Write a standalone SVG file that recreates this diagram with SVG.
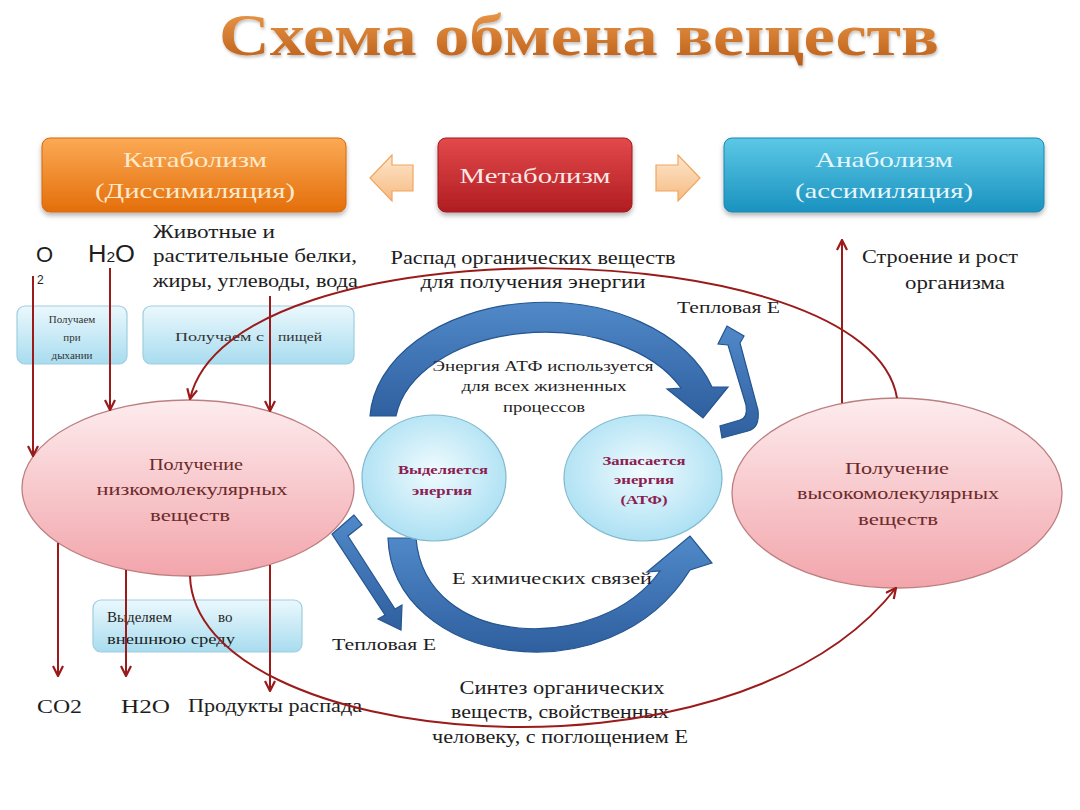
<svg xmlns="http://www.w3.org/2000/svg" width="1080" height="810" viewBox="0 0 1080 810">
<defs>
<linearGradient id="gTitle" x1="0" y1="0" x2="0" y2="1"><stop offset="0" stop-color="#f0a050"/><stop offset="1" stop-color="#b85a14"/></linearGradient>
<linearGradient id="gOrange" x1="0" y1="0" x2="0" y2="1"><stop offset="0" stop-color="#fbaa55"/><stop offset="1" stop-color="#e46e0a"/></linearGradient>
<linearGradient id="gRed" x1="0" y1="0" x2="0" y2="1"><stop offset="0" stop-color="#e3494b"/><stop offset="1" stop-color="#b01d21"/></linearGradient>
<linearGradient id="gBlue" x1="0" y1="0" x2="0" y2="1"><stop offset="0" stop-color="#5cc8e6"/><stop offset="1" stop-color="#1a92bf"/></linearGradient>
<linearGradient id="gPeach" x1="0" y1="0" x2="0" y2="1"><stop offset="0" stop-color="#fde6cc"/><stop offset="1" stop-color="#f6bb82"/></linearGradient>
<linearGradient id="gPink" x1="0" y1="0" x2="0" y2="1"><stop offset="0" stop-color="#fdecee"/><stop offset="1" stop-color="#f2a5ab"/></linearGradient>
<radialGradient id="gCyan" cx="0.5" cy="0.45" r="0.6"><stop offset="0" stop-color="#f0fbfe"/><stop offset="1" stop-color="#a6def2"/></radialGradient>
<linearGradient id="gLight" x1="0" y1="0" x2="0" y2="1"><stop offset="0" stop-color="#ebf8fd"/><stop offset="1" stop-color="#a8dcef"/></linearGradient>
<linearGradient id="gArrow" x1="0" y1="0" x2="0" y2="1"><stop offset="0" stop-color="#5089c9"/><stop offset="1" stop-color="#2f5f9f"/></linearGradient>
<filter id="shadow" x="-10%" y="-10%" width="120%" height="140%"><feDropShadow dx="0" dy="3" stdDeviation="2.5" flood-color="#000" flood-opacity="0.3"/></filter>
<filter id="tshadow" x="-5%" y="-20%" width="110%" height="150%"><feDropShadow dx="1" dy="2" stdDeviation="1.5" flood-color="#000" flood-opacity="0.25"/></filter>
<marker id="ah" viewBox="0 0 12 12" refX="11" refY="6" markerWidth="12" markerHeight="12" markerUnits="userSpaceOnUse" orient="auto"><path d="M1,1 L11,6 L1,11" fill="none" stroke="#9b1b1b" stroke-width="2.2"/></marker>
<style>
text{font-family:"Liberation Serif","DejaVu Serif",serif;fill:#1e1e1e}
.lbl{font-size:19px}
.mid{text-anchor:middle}
.hd{font-size:22px}
.big{font-size:17px;fill:#6b2a2a}
.sm{font-size:13px;font-weight:bold;fill:#8a2050}
.cyc{font-size:15px}
.tiny{font-size:11px;fill:#333}
.sans{font-family:"Liberation Sans",Arial,sans-serif}
.link{fill:none;stroke:#9b1b1b;stroke-width:2;marker-end:url(#ah)}
.pinkE{fill:url(#gPink);stroke:#bd7f80;stroke-width:1.3}
.cyanE{fill:url(#gCyan);stroke:#80b9cd;stroke-width:1.2}
.lbox{fill:url(#gLight);stroke:#9fcde0;stroke-width:1.2}
.barrow{fill:url(#gArrow);stroke:#24558f;stroke-width:1.2}
.peach{fill:url(#gPeach);stroke:#f0a660;stroke-width:1.2}
</style>
</defs>
<rect width="1080" height="810" fill="#ffffff"/>

<text x="579" y="55" text-anchor="middle" font-size="60" font-weight="bold" fill="url(#gTitle)" style="fill:url(#gTitle)" textLength="720" lengthAdjust="spacingAndGlyphs" filter="url(#tshadow)">Схема обмена веществ</text>

<g id="catabolism">
<rect x="42" y="138" width="304" height="74" rx="8" fill="url(#gOrange)" stroke="#d8670c" filter="url(#shadow)"/>
<text x="195" y="167" class="hd mid" style="fill:#ffeacc" textLength="144" lengthAdjust="spacingAndGlyphs">Катаболизм</text>
<text x="195" y="198" class="hd mid" style="fill:#ffeacc" textLength="200" lengthAdjust="spacingAndGlyphs">(Диссимиляция)</text>
</g>
<g id="metabolism">
<rect x="438" y="138" width="194" height="74" rx="8" fill="url(#gRed)" stroke="#a01a1e" filter="url(#shadow)"/>
<text x="535" y="183" class="hd mid" style="fill:#fde8e8" textLength="151" lengthAdjust="spacingAndGlyphs">Метаболизм</text>
</g>
<g id="anabolism">
<rect x="724" y="138" width="320" height="74" rx="8" fill="url(#gBlue)" stroke="#1888b3" filter="url(#shadow)"/>
<text x="884" y="167" class="hd mid" style="fill:#e6f6fc" textLength="138" lengthAdjust="spacingAndGlyphs">Анаболизм</text>
<text x="884" y="198" class="hd mid" style="fill:#e6f6fc" textLength="178" lengthAdjust="spacingAndGlyphs">(ассимиляция)</text>
</g>
<g id="arrow-left">
<path class="peach" d="M370,178 L392,155 L392,165 L413,165 L413,191 L392,191 L392,201 Z"/>
</g>
<g id="arrow-right">
<path class="peach" d="M700,178 L678,155 L678,165 L656,165 L656,191 L678,191 L678,201 Z"/>
</g>

<g id="inputs-labels">
<text x="36" y="262" class="sans" font-size="22">O</text>
<text x="37" y="284" class="sans" font-size="12">2</text>
<text x="88" y="262" class="sans" font-size="23" textLength="47" lengthAdjust="spacingAndGlyphs">H<tspan font-size="14">2</tspan>O</text>
<text x="153" y="238" class="lbl" textLength="122" lengthAdjust="spacingAndGlyphs">Животные и</text>
<text x="153" y="262" class="lbl" textLength="204" lengthAdjust="spacingAndGlyphs">растительные белки,</text>
<text x="153" y="287" class="lbl" textLength="205" lengthAdjust="spacingAndGlyphs">жиры, углеводы, вода</text>
</g>

<g id="breath-box">
<rect class="lbox" x="17" y="306" width="110" height="58" rx="8"/>
<text x="72" y="323" class="tiny mid">Получаем</text>
<text x="72" y="341" class="tiny mid">при</text>
<text x="72" y="359" class="tiny mid">дыхании</text>
</g>
<g id="food-box">
<rect class="lbox" x="143" y="306" width="211" height="58" rx="8"/>
<text x="175" y="341" font-size="12" style="fill:#333" textLength="89" lengthAdjust="spacingAndGlyphs">Получаем с</text>
<text x="278" y="341" font-size="12" style="fill:#333" textLength="44" lengthAdjust="spacingAndGlyphs">пищей</text>
</g>

<g id="top-labels">
<text x="533" y="264" class="lbl mid" textLength="285" lengthAdjust="spacingAndGlyphs">Распад органических веществ</text>
<text x="533" y="288" class="lbl mid" textLength="225" lengthAdjust="spacingAndGlyphs">для получения энергии</text>
<text x="862" y="263" class="lbl" textLength="156" lengthAdjust="spacingAndGlyphs">Строение и рост</text>
<text x="905" y="289" class="lbl" textLength="100" lengthAdjust="spacingAndGlyphs">организма</text>
<text x="677" y="313" font-size="17" textLength="103" lengthAdjust="spacingAndGlyphs">Тепловая Е</text>
</g>

<g id="energy-arrows">
<path class="barrow" d="M370,416 A175,120 0 0 1 712,387 L728,387 L703,418 L667,389 L681,388 A150,96 0 0 0 396,416 Z"/>
<path class="barrow" d="M388,538 C392,665 610,700 690,570 L712,563 L690,536 L647,572 L660,571 C600,655 425,650 416,538 Z"/>
<path class="barrow" d="M722,438 L748,431 Q760,428 758,410 L740,343 L744,336 L727,326 L718,344 L728,345 L746,405 Q748,418 740,420 L720,426 Z"/>
<path class="barrow" d="M354,515 L332,534 L385,615 L378,619 L401,630 L402,605 L395,609 L348,536 L362,525 Z"/>
</g>

<g id="low-molecular">
<ellipse class="pinkE" cx="188" cy="488" rx="166" ry="88"/>
<text x="196" y="470" class="big mid" textLength="94" lengthAdjust="spacingAndGlyphs">Получение</text>
<text x="192" y="495" class="big mid" textLength="191" lengthAdjust="spacingAndGlyphs">низкомолекулярных</text>
<text x="190" y="521" class="big mid" textLength="80" lengthAdjust="spacingAndGlyphs">веществ</text>
</g>
<g id="high-molecular">
<ellipse class="pinkE" cx="897" cy="493" rx="165" ry="95"/>
<text x="897" y="474" class="big mid" textLength="104" lengthAdjust="spacingAndGlyphs">Получение</text>
<text x="898" y="499" class="big mid" textLength="202" lengthAdjust="spacingAndGlyphs">высокомолекулярных</text>
<text x="898" y="525" class="big mid" textLength="80" lengthAdjust="spacingAndGlyphs">веществ</text>
</g>
<g id="energy-released">
<ellipse class="cyanE" cx="434" cy="478" rx="72" ry="63"/>
<text x="443" y="474" class="sm mid" textLength="90" lengthAdjust="spacingAndGlyphs">Выделяется</text>
<text x="442" y="495" class="sm mid" textLength="60" lengthAdjust="spacingAndGlyphs">энергия</text>
</g>
<g id="energy-stored">
<ellipse class="cyanE" cx="643" cy="478" rx="79" ry="63"/>
<text x="644" y="465" class="sm mid" textLength="83" lengthAdjust="spacingAndGlyphs">Запасается</text>
<text x="644" y="484" class="sm mid" textLength="60" lengthAdjust="spacingAndGlyphs">энергия</text>
<text x="644" y="504" class="sm mid" textLength="47" lengthAdjust="spacingAndGlyphs">(АТФ)</text>
</g>

<g id="cycle-labels">
<text x="543" y="371" class="cyc mid" textLength="221" lengthAdjust="spacingAndGlyphs">Энергия АТФ используется</text>
<text x="544" y="391" class="cyc mid" textLength="165" lengthAdjust="spacingAndGlyphs">для всех жизненных</text>
<text x="544" y="412" class="cyc mid" textLength="82" lengthAdjust="spacingAndGlyphs">процессов</text>
<text x="452" y="584" font-size="17" textLength="200" lengthAdjust="spacingAndGlyphs">Е химических связей</text>
<text x="332" y="650" font-size="17" textLength="104" lengthAdjust="spacingAndGlyphs">Тепловая Е</text>
</g>

<g id="excrete-box">
<rect class="lbox" x="93" y="600" width="209" height="52" rx="8"/>
<text x="107" y="622" font-size="15">Выделяем</text>
<text x="218" y="622" font-size="15">во</text>
<text x="107" y="644" font-size="15" textLength="128" lengthAdjust="spacingAndGlyphs">внешнюю среду</text>
</g>

<g id="outputs-labels">
<text x="37" y="713" class="lbl" textLength="45" lengthAdjust="spacingAndGlyphs">CO2</text>
<text x="121" y="713" class="lbl" textLength="49" lengthAdjust="spacingAndGlyphs">H2O</text>
<text x="188" y="712" class="lbl" textLength="174" lengthAdjust="spacingAndGlyphs">Продукты распада</text>
<text x="562" y="694" class="lbl mid" textLength="205" lengthAdjust="spacingAndGlyphs">Синтез органических</text>
<text x="560" y="718" class="lbl mid" textLength="218" lengthAdjust="spacingAndGlyphs">веществ, свойственных</text>
<text x="560" y="743" class="lbl mid" textLength="256" lengthAdjust="spacingAndGlyphs">человеку, с поглощением Е</text>
</g>

<g id="connectors">
<path class="link" d="M33,276 L33,456"/>
<path class="link" d="M110,268 L110,410"/>
<path class="link" d="M270,296 L270,411"/>
<path class="link" d="M897,398 C870,230 230,220 190,399"/>
<path class="link" d="M58,543 L58,676"/>
<path class="link" d="M126,570 L126,676"/>
<path class="link" d="M270,565 L270,691"/>
<path class="link" d="M190,576 C195,748 730,800 896,588"/>
<path class="link" d="M842,403 L842,240"/>
</g>
</svg>
